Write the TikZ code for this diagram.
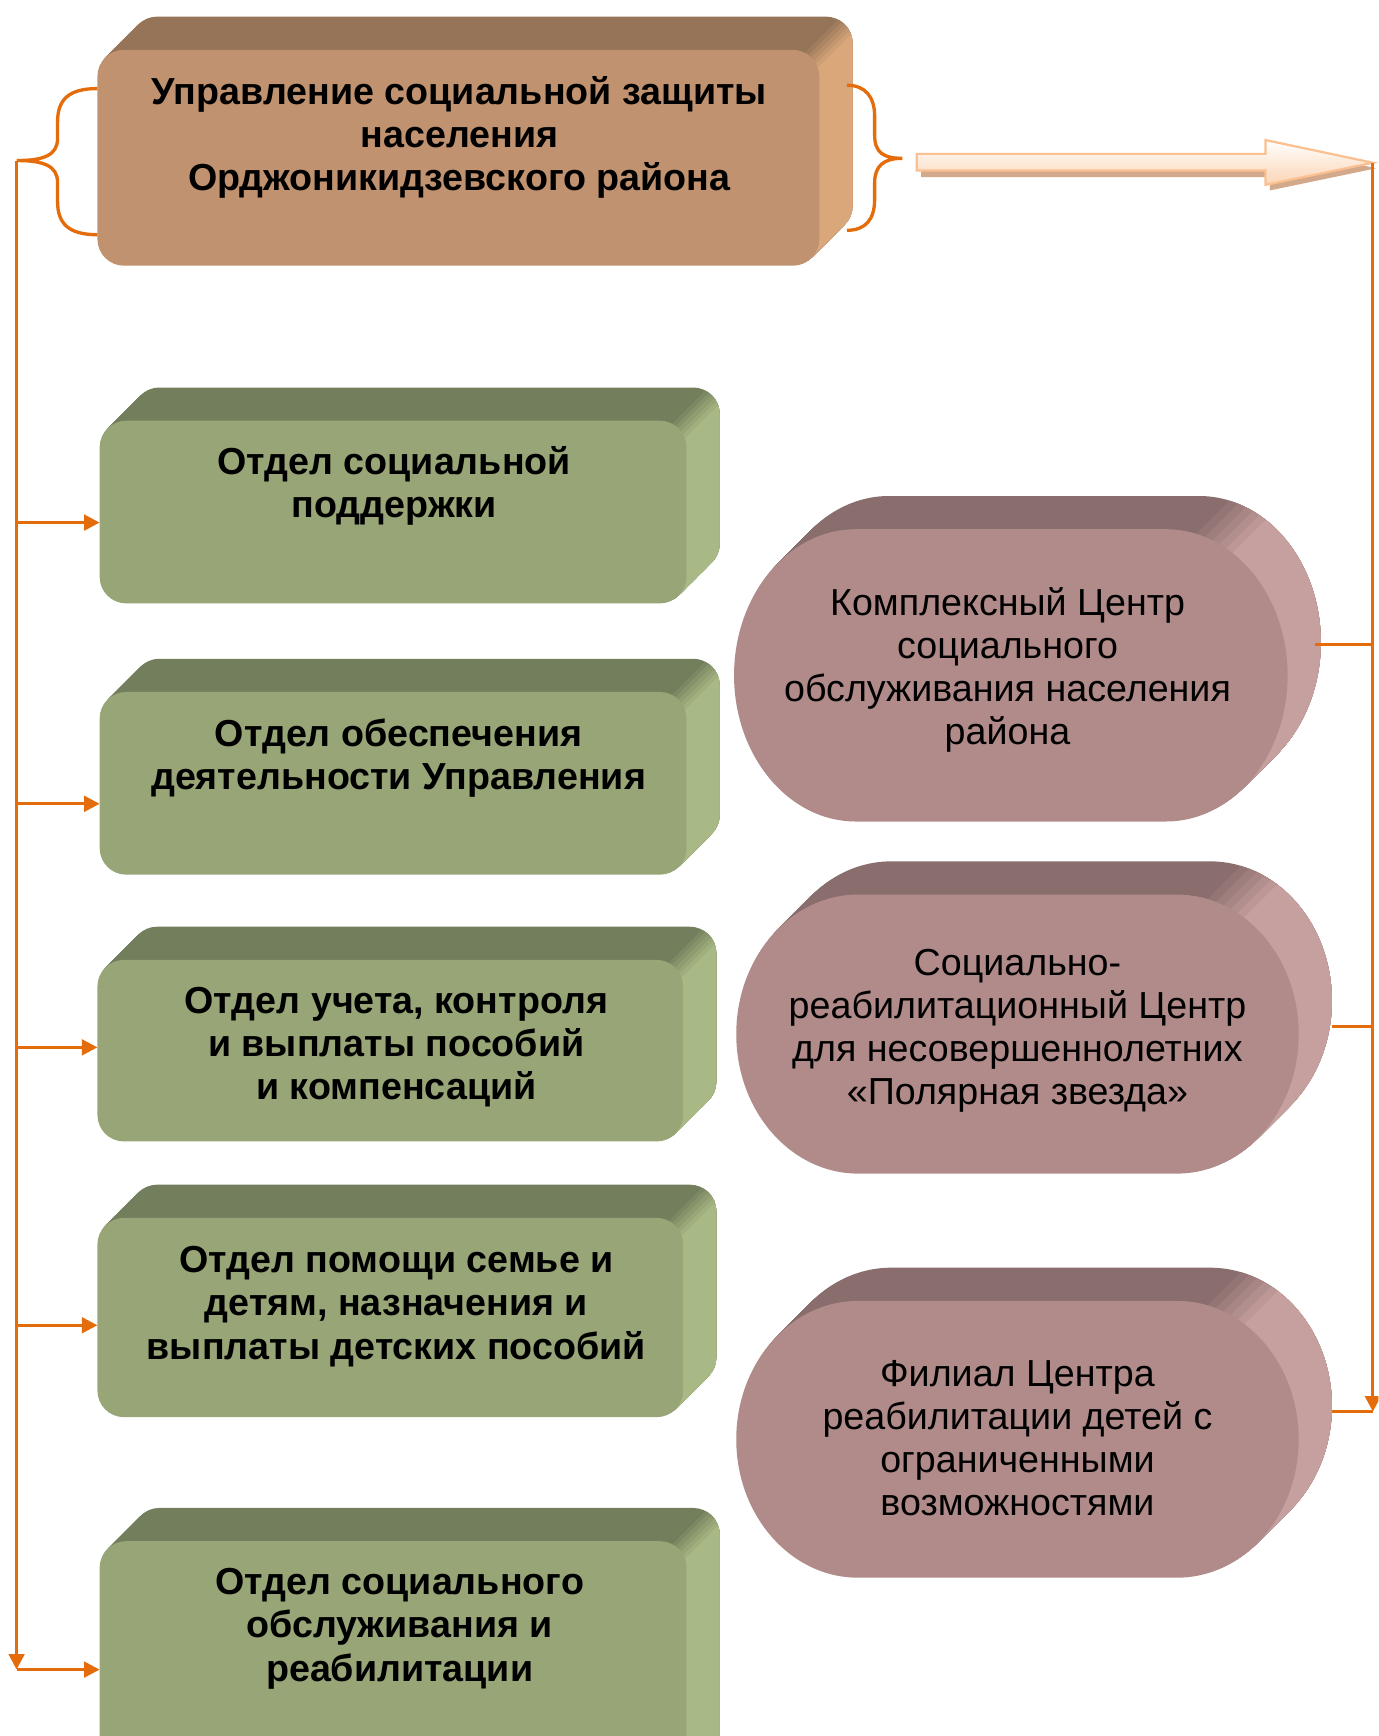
\documentclass[tikz,border=0pt]{standalone}
\usepackage{fontspec}
\setmainfont{Liberation Sans}
\usetikzlibrary{arrows.meta,calc}
\definecolor{orng}{HTML}{E46C0A}
\definecolor{brFront}{HTML}{C09270}
\definecolor{brTop}{HTML}{957458}
\definecolor{brSide}{HTML}{DAA77B}
\definecolor{grFront}{HTML}{97A577}
\definecolor{grTop}{HTML}{737F5C}
\definecolor{grSide}{HTML}{A9B985}
\definecolor{pkFront}{HTML}{B08B8A}
\definecolor{pkTop}{HTML}{8A6D6D}
\definecolor{pkSide}{HTML}{C6A09F}
\definecolor{arFill}{HTML}{FBD4B4}
\definecolor{arLine}{HTML}{FAC08F}
\definecolor{arShadow}{HTML}{D2A98B}
% extruded stack of one outline: #1 colour, #2 path
\newcommand\stackfill[2]{%
  \foreach \i in {30,29,...,1}{\fill[#1, shift={(\i,-\i)}] #2;}}
% soft top/side transition: #1,#2 pivot, #3 prefix, #4 path, #5 band step
\newcommand\sideband[5]{%
  \foreach \k in {1,...,6}{%
    \pgfmathsetmacro\tt{(\k-3)*#5}%
    \pgfmathtruncatemacro\pc{100*\k/6}%
    \begin{scope}
      \clip ({#1+\tt-400},{#2+\tt+400}) -- ({#1+\tt+400},{#2+\tt-400}) -- ({#1+\tt+1000},{#2+\tt+200}) -- ({#1+\tt+200},{#2+\tt+1000}) -- cycle;
      \stackfill{#3Side!\pc!#3Top}{#4}
    \end{scope}}}
% 3D box: #1 x1, #2 y1, #3 x2, #4 y2, #5 colour prefix, #6 name
\newcommand\cubebox[6]{%
  \stackfill{#5Top}{[rounded corners=12pt] ({#1},{#2}) rectangle ({#3},{#4})}
  \sideband{#3-7}{#2+7}{#5}{[rounded corners=12pt] ({#1},{#2}) rectangle ({#3},{#4})}{2.5}
  \node[fill=#5Front, rounded corners=12pt, inner sep=0pt, outer sep=0pt,
        minimum width={(#3-#1)*0.5pt}, minimum height={(#4-#2)*0.5pt}] (#6) at ({(#1+#3)/2},{(#2+#4)/2}) {};
}
\newcommand\pinkpath[4]{({#1+110},#2) -- ({#3-110},#2)
  .. controls ({#3-49.3},#2) and (#3,{(#2+#4)/2-0.276*(#4-#2)}) .. (#3,{(#2+#4)/2})
  .. controls (#3,{(#2+#4)/2+0.276*(#4-#2)}) and ({#3-49.3},#4) .. ({#3-110},#4)
  -- ({#1+110},#4)
  .. controls ({#1+49.3},#4) and (#1,{(#2+#4)/2+0.276*(#4-#2)}) .. (#1,{(#2+#4)/2})
  .. controls (#1,{(#2+#4)/2-0.276*(#4-#2)}) and ({#1+49.3},#2) .. ({#1+110},#2) -- cycle}
% pink 3D shape: #1 xL, #2 yT, #3 xR, #4 yB, #5 name
\newcommand\pinkbox[5]{%
  \stackfill{pkTop}{\pinkpath{#1}{#2}{#3}{#4}}
  \sideband{#3-62}{#2+4}{pk}{\pinkpath{#1}{#2}{#3}{#4}}{5}
  \fill[pkFront] \pinkpath{#1}{#2}{#3}{#4};
  \coordinate (#5) at ({(#1+#3)/2},{(#2+#4)/2});
}
\begin{document}
\begin{tikzpicture}[x=0.5pt,y=-0.5pt,
  conn/.style={draw=orng, line width=1.4pt},
  arr/.style={conn, -{Triangle[length=7pt,width=7pt]}},
  txtb/.style={align=center, font=\bfseries\fontsize{17}{19.5}\selectfont, inner sep=0pt},
  txtr/.style={align=center, font=\fontsize{17}{19.5}\selectfont, inner sep=0pt}]
\useasboundingbox (0,0) rectangle (1245,1568);
\fill[white] (0,0) rectangle (1245,1568);
\clip (0,0) rectangle (1245,1568);

% boxes
\cubebox{88}{45}{740}{240}{br}{top}
\cubebox{90}{380}{620}{545}{gr}{g1}
\cubebox{90}{625}{620}{790}{gr}{g2}
\cubebox{88}{867}{617}{1031}{gr}{g3}
\cubebox{88}{1100}{617}{1280}{gr}{g4}
\cubebox{90}{1392}{620}{1630}{gr}{g5}
\pinkbox{663}{478}{1163}{742}{p1}
\pinkbox{665}{808}{1173}{1060}{p2}
\pinkbox{665}{1175}{1173}{1425}{p3}

% texts
\node[txtb] (t0) at (415,124) {Управление социальной защиты\\населения\\Орджоникидзевского района};
\node[txtb] (t1) at (356,439) {Отдел социальной\\поддержки};
\node[txtb] (t2) at (360,685) {Отдел обеспечения\\деятельности Управления};
\node[txtb] (t3) at (358,946) {Отдел учета, контроля\\и выплаты пособий\\и компенсаций};
\node[txtb] (t4) at (358,1180) {Отдел помощи семье и\\детям, назначения и\\выплаты детских пособий};
\node[txtb] (t5) at (361,1471) {Отдел социального\\обслуживания и\\реабилитации};
\node[txtr] (t6) at (910,605) {Комплексный Центр\\социального\\обслуживания населения\\района};
\node[txtr] (t7) at (919,931) {Социально-\\реабилитационный Центр\\для несовершеннолетних\\«Полярная звезда»};
\node[txtr] (t8) at (919,1299) {Филиал Центра\\реабилитации детей с\\ограниченными\\возможностями};

% braces
\coordinate (ltip) at (15,145);
\coordinate (rtip) at (815,143);
\draw[conn, line width=1.5pt] (88,80) .. controls (62,80) and (52,90) .. (52,110) -- (52,125)
  .. controls (52,140) and (40,145) .. (ltip) .. controls (40,145) and (52,150) .. (52,165)
  -- (52,182) .. controls (52,202) and (62,212) .. (88,212);
\draw[conn, line width=1.5pt] (765,77) .. controls (782,77) and (790,88) .. (790,105) -- (790,122)
  .. controls (790,138) and (798,143) .. (rtip) .. controls (798,143) and (790,150) .. (790,165)
  -- (790,180) .. controls (790,198) and (782,208) .. (765,208);

% block arrow
\coordinate (astart) at (828,147);
\coordinate (atip) at (1240,147);
\fill[arShadow] (832,143) -- (1147,143) -- (1147,131) -- (1243,152) -- (1147,172) -- (1147,160) -- (832,160) -- cycle;
\shade[top color=white, bottom color=arFill, draw=arLine, line width=1pt]
  (828,139) -- (1143,139) -- (1143,126.5) -- (atip) -- (1143,167) -- (1143,154) -- (828,154) -- cycle;

% left trunk and branches
\coordinate (lbot) at (15,1508);
\draw[arr] (ltip) -- (lbot);
\coordinate (g1in) at ($(g1.west)+(0,9.5)$);
\coordinate (g2in) at ($(g2.west)+(0,18.5)$);
\coordinate (g3in) at ($(g3.west)+(0,-3)$);
\coordinate (g4in) at ($(g4.west)+(0,7)$);
\coordinate (g5in) at ($(g5.west)+(0,-3)$);
\draw[arr] (ltip |- g1in) -- (g1in);
\draw[arr] (ltip |- g2in) -- (g2in);
\draw[arr] (ltip |- g3in) -- (g3in);
\draw[arr] (ltip |- g4in) -- (g4in);
\draw[arr] (lbot) -- (g5in);

% right trunk
\coordinate (p1r) at (1188,582);
\coordinate (p2r) at (1203,927);
\coordinate (p3r) at (1203,1275);
\draw[arr] (atip) -- (atip |- p3r);
\draw[conn] (p1r) -- (p1r -| atip);
\draw[conn] (p2r) -- (p2r -| atip);
\draw[conn] (p3r) -- (p3r -| atip);
\end{tikzpicture}
\end{document}
